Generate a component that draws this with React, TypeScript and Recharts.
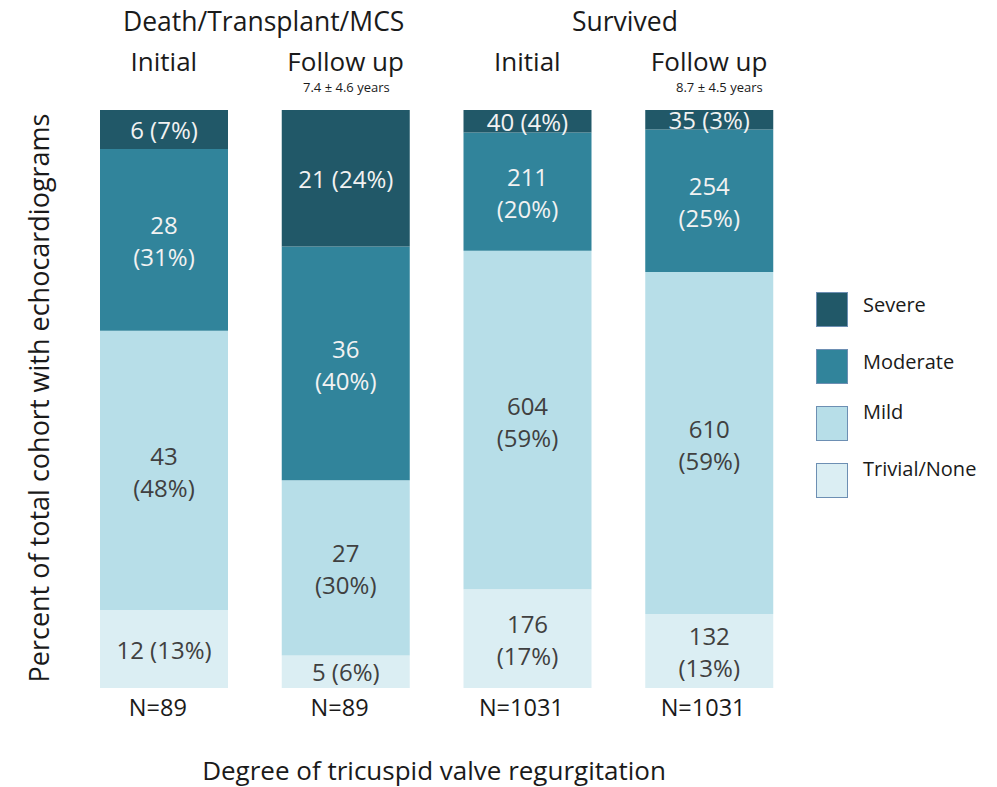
import { BarChart, Bar, XAxis, YAxis, LabelList } from "recharts";

const phases = ["Initial", "Follow up", "Initial", "Follow up"];
const nLabels = ["N=89", "N=89", "N=1031", "N=1031"];

const severe = [6, 21, 40, 35];
const moderate = [28, 36, 211, 254];
const mild = [43, 27, 604, 610];
const trivial = [12, 5, 176, 132];

const severePct = [7, 24, 4, 3];
const moderatePct = [31, 40, 20, 25];
const mildPct = [48, 30, 59, 59];
const trivialPct = [13, 6, 17, 13];

// which labels PowerPoint broke over two lines
const severeWrap = [false, false, false, false];
const moderateWrap = [true, true, true, true];
const mildWrap = [true, true, true, true];
const trivialWrap = [false, false, true, true];

const FONT = "'Open Sans', sans-serif";

const series = [
  { key: "trivial", name: "Trivial/None", values: trivial, pct: trivialPct, wrap: trivialWrap, fill: "#dbeef3", text: "#404040" },
  { key: "mild", name: "Mild", values: mild, pct: mildPct, wrap: mildWrap, fill: "#b7dee8", text: "#404040" },
  { key: "moderate", name: "Moderate", values: moderate, pct: moderatePct, wrap: moderateWrap, fill: "#31849b", text: "#f2f2f2" },
  { key: "severe", name: "Severe", values: severe, pct: severePct, wrap: severeWrap, fill: "#215868", text: "#f2f2f2" },
];

const data = phases.map((phase, i) => {
  const row: Record<string, string | number> = { phase, n: nLabels[i], idx: i };
  series.forEach((s) => {
    row[s.key] = s.values[i];
  });
  return row;
});

function makeLabel(s: (typeof series)[number]) {
  return (props: any) => {
    const { x, y, width, height, index } = props;
    const cx = Number(x) + Number(width) / 2;
    const cy = Number(y) + Number(height) / 2;
    const count = s.values[index];
    const pct = `(${s.pct[index]}%)`;
    if (s.wrap[index]) {
      return (
        <text x={cx} textAnchor="middle" fill={s.text} fontSize={24} fontFamily={FONT}>
          <tspan x={cx} y={cy - 15} dominantBaseline="central">{count}</tspan>
          <tspan x={cx} y={cy + 17} dominantBaseline="central">{pct}</tspan>
        </text>
      );
    }
    return (
      <text x={cx} y={cy} textAnchor="middle" dominantBaseline="central" fill={s.text} fontSize={24} fontFamily={FONT}>
        {`${count} ${pct}`}
      </text>
    );
  };
}

const PhaseTick = (props: any) => {
  const { x, payload } = props;
  return (
    <text x={x} y={71} textAnchor="middle" fill="#1a1a1a" fontSize={26} fontFamily={FONT}>
      {phases[payload.value]}
    </text>
  );
};

const NTick = (props: any) => {
  const { x, y, payload } = props;
  return (
    <text x={x - 6} y={y + 20} textAnchor="middle" fill="#1a1a1a" fontSize={23.5} fontFamily={FONT}>
      {payload.value}
    </text>
  );
};

const txt = (extra: React.CSSProperties): React.CSSProperties => ({
  position: "absolute",
  fontFamily: FONT,
  color: "#1a1a1a",
  whiteSpace: "nowrap",
  lineHeight: 1,
  ...extra,
});

export default function App() {
  return (
    <div style={{ position: "absolute", left: 0, top: 0, width: 997, height: 787, background: "#fff" }}>
      <BarChart
        width={997}
        height={787}
        data={data}
        stackOffset="expand"
        barCategoryGap={0}
        margin={{ top: 80, right: 197, left: 73, bottom: 69 }}
      >
        <XAxis xAxisId="bottom" dataKey="n" axisLine={false} tickLine={false} tick={<NTick />} interval={0} height={30} />
        <XAxis
          xAxisId="top"
          orientation="top"
          dataKey="idx"
          axisLine={false}
          tickLine={false}
          tick={<PhaseTick />}
          interval={0}
          height={30}
        />
        <YAxis hide domain={[0, 1]} />
        {series.map((s) => (
          <Bar
            key={s.key}
            xAxisId="bottom"
            dataKey={s.key}
            name={s.name}
            stackId="a"
            fill={s.fill}
            barSize={128}
            isAnimationActive={false}
          >
            <LabelList dataKey={s.key} content={makeLabel(s)} />
          </Bar>
        ))}
      </BarChart>

      <div style={txt({ left: 123, top: 8, fontSize: 26.5 })}>Death/Transplant/MCS</div>
      <div style={txt({ left: 572, top: 8, fontSize: 26.5 })}>Survived</div>
      <div style={txt({ left: 303, top: 81, fontSize: 13 })}>7.4 ± 4.6 years</div>
      <div style={txt({ left: 676, top: 81, fontSize: 13 })}>8.7 ± 4.5 years</div>

      <div
        style={txt({
          left: 38,
          top: 398,
          fontSize: 27,
          transform: "translate(-50%, -50%) rotate(-90deg)",
        })}
      >
        Percent of total cohort with echocardiograms
      </div>
      <div style={txt({ left: 434, top: 770, fontSize: 26, transform: "translate(-50%, -50%)" })}>
        Degree of tricuspid valve regurgitation
      </div>

      {[...series].reverse().map((s, i) => (
        <div key={s.key}>
          <div
            style={{
              position: "absolute",
              left: 816,
              top: 292 + i * 57,
              width: 30,
              height: 33,
              background: s.fill,
              border: "1.5px solid #6d8fb3",
            }}
          />
          <div style={txt({ left: 863, top: 295 + i * 57 - (i >= 2 ? 7 : 0), fontSize: 20 })}>{s.name}</div>
        </div>
      ))}
    </div>
  );
}
